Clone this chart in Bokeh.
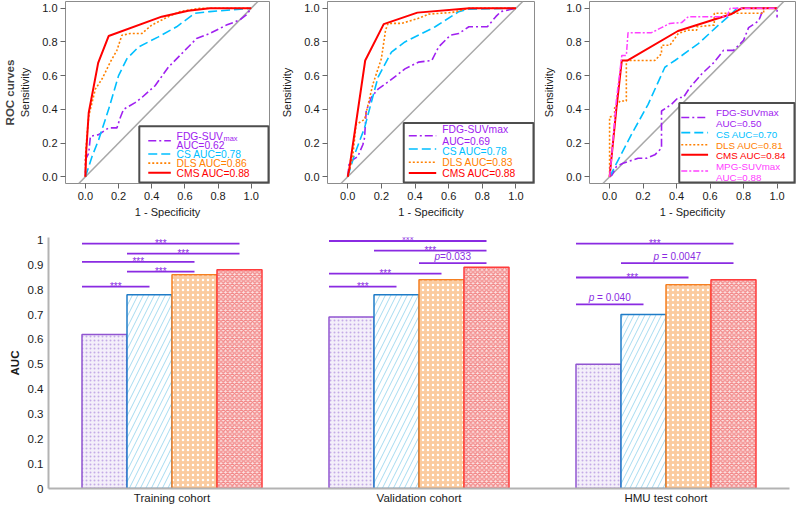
from bokeh.plotting import figure
from bokeh.models import Range1d, FixedTicker, PrintfTickFormatter, Title, Slope
from bokeh.layouts import row, column
from bokeh.embed import file_html
from bokeh.resources import INLINE
from bokeh.core.properties import value

# ---------------- data ----------------
roc_ticks = [0.0, 0.2, 0.4, 0.6, 0.8, 1.0]

# Training cohort ROC curves (1 - specificity, sensitivity)
train_fdg_fpr = [0, 0.0, 0.02, 0.03, 0.08, 0.14, 0.19, 0.21, 0.23, 0.30, 0.34, 0.42, 0.50, 0.58, 0.62, 0.67, 0.75, 0.85, 0.93, 0.97, 1.0]
train_fdg_tpr = [0, 0.10, 0.14, 0.24, 0.25, 0.29, 0.29, 0.35, 0.40, 0.44, 0.47, 0.54, 0.65, 0.73, 0.77, 0.82, 0.85, 0.90, 0.93, 0.96, 1.0]
train_cs_fpr = [0, 0.04, 0.08, 0.14, 0.20, 0.25, 0.32, 0.44, 0.55, 0.66, 0.75, 1.0]
train_cs_tpr = [0, 0.12, 0.22, 0.40, 0.60, 0.70, 0.77, 0.83, 0.89, 0.97, 0.98, 1.0]
train_dls_fpr = [0, 0.0, 0.01, 0.02, 0.04, 0.06, 0.08, 0.10, 0.12, 0.15, 0.19, 0.22, 0.27, 0.34, 0.40, 0.50, 0.57, 0.69, 1.0]
train_dls_tpr = [0, 0.12, 0.25, 0.36, 0.44, 0.52, 0.55, 0.58, 0.62, 0.68, 0.75, 0.84, 0.85, 0.85, 0.90, 0.95, 0.98, 1.0, 1.0]
train_cms_fpr = [0, 0.005, 0.02, 0.077, 0.14, 0.46, 0.62, 0.75, 1.0]
train_cms_tpr = [0, 0.15, 0.38, 0.676, 0.835, 0.95, 0.985, 1.0, 1.0]

# Validation cohort ROC curves
valid_fdg_fpr = [0, 0.01, 0.03, 0.06, 0.09, 0.10, 0.11, 0.14, 0.18, 0.25, 0.34, 0.42, 0.50, 0.54, 0.61, 0.66, 0.72, 0.83, 0.88, 0.91, 1.0]
valid_fdg_tpr = [0, 0.09, 0.10, 0.12, 0.19, 0.23, 0.39, 0.47, 0.52, 0.57, 0.64, 0.68, 0.69, 0.77, 0.84, 0.85, 0.89, 0.89, 0.95, 0.98, 1.0]
valid_cs_fpr = [0, 0.04, 0.10, 0.18, 0.26, 0.34, 0.52, 0.66, 0.72, 1.0]
valid_cs_tpr = [0, 0.13, 0.29, 0.59, 0.74, 0.80, 0.89, 0.98, 0.995, 1.0]
valid_dls_fpr = [0, 0.01, 0.03, 0.05, 0.10, 0.15, 0.20, 0.225, 0.24, 0.32, 0.42, 0.48, 0.62, 0.72, 1.0]
valid_dls_tpr = [0, 0.04, 0.12, 0.31, 0.34, 0.55, 0.70, 0.87, 0.91, 0.91, 0.94, 0.965, 0.975, 1.0, 1.0]
valid_cms_fpr = [0, 0.01, 0.104, 0.214, 0.414, 0.724, 1.0]
valid_cms_tpr = [0, 0.05, 0.69, 0.906, 0.974, 1.0, 1.0]

# HMU test cohort ROC curves
hmu_fdg_fpr = [0, 0.014, 0.04, 0.08, 0.17, 0.22, 0.27, 0.31, 0.31, 0.37, 0.41, 0.44, 0.48, 0.55, 0.625, 0.68, 0.74, 0.80, 0.83, 0.89, 0.92, 1.0, 1.0]
hmu_fdg_tpr = [0, 0.01, 0.06, 0.08, 0.11, 0.11, 0.13, 0.17, 0.39, 0.43, 0.47, 0.47, 0.53, 0.61, 0.68, 0.75, 0.75, 0.81, 0.885, 0.925, 1.0, 1.0, 0.945]
hmu_cs_fpr = [0, 0.13, 0.23, 0.33, 0.39, 0.53, 0.645, 0.724, 0.76, 1.0]
hmu_cs_tpr = [0, 0.25, 0.43, 0.65, 0.69, 0.79, 0.895, 0.964, 1.0, 1.0]
hmu_dls_fpr = [0, 0.0, 0.03, 0.03, 0.063, 0.10, 0.10, 0.27, 0.31, 0.31, 0.36, 0.41, 0.47, 0.52, 0.52, 0.625, 0.625, 0.92, 0.92, 1.0]
hmu_dls_tpr = [0, 0.355, 0.36, 0.41, 0.45, 0.45, 0.69, 0.69, 0.73, 0.78, 0.78, 0.85, 0.87, 0.87, 0.89, 0.90, 0.97, 0.97, 1.0, 1.0]
hmu_cms_fpr = [0, 0.01, 0.04, 0.073, 0.108, 0.408, 0.724, 0.79, 1.0]
hmu_cms_tpr = [0, 0.10, 0.40, 0.69, 0.69, 0.865, 0.964, 1.0, 1.0]
hmu_mpg_fpr = [0, 0.01, 0.04, 0.073, 0.10, 0.11, 0.25, 0.31, 0.36, 0.43, 0.47, 0.70, 0.72, 1.0]
hmu_mpg_tpr = [0, 0.10, 0.45, 0.72, 0.72, 0.855, 0.855, 0.885, 0.91, 0.915, 0.95, 0.95, 1.0, 1.0]

roc_auc_train = [0.62, 0.78, 0.86, 0.88]
roc_auc_valid = [0.69, 0.78, 0.83, 0.88]
roc_auc_hmu = [0.50, 0.70, 0.81, 0.84, 0.88]

# Bar chart
cohorts = ["Training cohort", "Validation cohort", "HMU test cohort"]
methods = ["FDG-SUVmax", "CS", "DLS", "CMS"]
auc_fdg = [0.62, 0.69, 0.50]
auc_cs = [0.78, 0.78, 0.70]
auc_dls = [0.86, 0.84, 0.82]
auc_cms = [0.88, 0.89, 0.84]
auc_ticks = [0, 0.1, 0.2, 0.3, 0.4, 0.5, 0.6, 0.7, 0.8, 0.9, 1]
auc_tick_labels = ["0", "0.1", "0.2", "0.3", "0.4", "0.5", "0.6", "0.7", "0.8", "0.9", "1"]

# pairwise comparisons: cohort index, bar a, bar b, bracket level, label
sig_cohort = [0, 0, 0, 0, 0, 1, 1, 1, 1, 1, 2, 2, 2, 2]
sig_bar_a = [0, 1, 0, 1, 0, 0, 1, 2, 0, 0, 0, 1, 0, 0]
sig_bar_b = [3, 3, 2, 2, 1, 3, 3, 3, 2, 1, 3, 3, 2, 1]
sig_level = [0.985, 0.945, 0.912, 0.873, 0.812, 0.996, 0.957, 0.907, 0.865, 0.812, 0.985, 0.907, 0.849, 0.741]
sig_label = ["***", "***", "***", "***", "***", "***", "***", "p=0.033", "***", "***",
             "***", "p = 0.0047", "***", "p = 0.040"]

# ---------------- style ----------------
FONT = "Liberation Sans"

C_FDG, C_CS, C_DLS, C_CMS, C_MPG = "#A020F0", "#00BFFF", "#FF8000", "#FF0000", "#FF40FF"
STY = {
    "fdg": dict(line_color=C_FDG, line_dash="8 3 2 3", line_width=1.6),
    "cs": dict(line_color=C_CS, line_dash="9 4", line_width=1.6),
    "dls": dict(line_color=C_DLS, line_dash="2 2", line_width=1.6),
    "cms": dict(line_color=C_CMS, line_dash="solid", line_width=2.0),
    "mpg": dict(line_color=C_MPG, line_dash="6 2 2 2", line_width=1.5),
}
TEXT_C = {"fdg": C_FDG, "cs": C_CS, "dls": C_DLS, "cms": C_CMS, "mpg": C_MPG}

CHAR_W = {'0': .556, '1': .556, '2': .556, '3': .556, '4': .556, '5': .556, '6': .556, '7': .556,
          '8': .556, '9': .556, '.': .278, ' ': .278, '=': .584, 'p': .556, '*': .389,
          'F': .611, 'D': .722, 'G': .778, '-': .333, 'S': .667, 'U': .722, 'V': .667}


def text_w(s, size):
    return sum(CHAR_W.get(c, .556) for c in s) * size


TOP_H = 222
FRAME_H = 182
XR = (-0.12, 1.11)
YR = (-0.04, 1.04)


def make_roc(width, bl, br):
    p = figure(width=width, height=TOP_H, output_backend="svg", toolbar_location=None,
               x_range=Range1d(*XR), y_range=Range1d(*YR),
               min_border_left=bl, min_border_right=br,
               min_border_top=1, min_border_bottom=TOP_H - 1 - FRAME_H)
    p.grid.visible = False
    p.outline_line_color = "#8C8C8C"
    p.outline_line_width = 1
    p.background_fill_color = "white"
    p.border_fill_color = "white"
    for ax in (p.xaxis[0], p.yaxis[0]):
        ax.ticker = FixedTicker(ticks=roc_ticks)
        ax.formatter = PrintfTickFormatter(format="%.1f")
        ax.axis_line_color = None
        ax.major_tick_line_color = "#666666"
        ax.major_tick_in = 0
        ax.major_tick_out = 5
        ax.minor_tick_line_color = None
        ax.major_label_text_font = FONT
        ax.major_label_text_font_size = "11px"
        ax.major_label_text_color = "#1A1A1A"
        ax.axis_label_text_font = FONT
        ax.axis_label_text_font_size = "11px"
        ax.axis_label_text_font_style = "normal"
        ax.axis_label_text_color = "#1A1A1A"
    p.xaxis.axis_label = "1 - Specificity"
    p.yaxis.axis_label = "Sensitivity"
    p.xaxis.major_label_standoff = 3
    p.xaxis.axis_label_standoff = 3
    p.yaxis.major_label_standoff = 3
    p.yaxis.axis_label_standoff = 8
    p.add_layout(Slope(gradient=1, y_intercept=0, line_color="#A8A8A8", line_width=1.5, level="underlay"))
    return p


def draw_curves(p, curves):
    for key, xs, ys in curves:
        p.line(x=xs, y=ys, **STY[key])


def draw_legend(p, box_left, box_top, sx0, sx1, tx, entries, size):
    p.quad(left=[box_left], right=[XR[1] - 0.006], top=[box_top], bottom=[YR[0] + 0.006],
           fill_color="white", line_color="#4D4D4D", line_width=2)
    for key, sy, texts in entries:
        p.line(x=[sx0, sx1], y=[sy, sy], **STY[key])
        for t in texts:
            txt, ty = t[0], t[1]
            p.text(x=[tx], y=[ty], text=[txt], text_color=TEXT_C[key], text_font=value(FONT),
                   text_font_size=f"{size}px", text_baseline="middle", text_align="left")
            if len(t) > 2:
                p.text(x=[tx], y=[ty], text=[t[2]], text_color=TEXT_C[key], text_font=value(FONT),
                       text_font_size=f"{size * 0.72:.1f}px", text_baseline="middle", text_align="left",
                       x_offset=text_w(txt, size) + 0.5, y_offset=2.5)


# Panel 1 - training
p1 = make_roc(272, 62, 3)
p1.add_layout(Title(text="ROC curves", text_font=FONT, text_font_size="11.5px", text_font_style="bold",
                    align="center", offset=10, standoff=2), "left")
draw_curves(p1, [("fdg", train_fdg_fpr, train_fdg_tpr), ("cs", train_cs_fpr, train_cs_tpr),
                 ("dls", train_dls_fpr, train_dls_tpr), ("cms", train_cms_fpr, train_cms_tpr)])
draw_legend(p1, 0.325, 0.30, 0.379, 0.515, 0.55, [
    ("fdg", 0.214, [("FDG-SUV", 0.241, "max"), (f"AUC={roc_auc_train[0]:.2f}", 0.188)]),
    ("cs", 0.135, [(f"CS AUC={roc_auc_train[1]:.2f}", 0.135)]),
    ("dls", 0.081, [(f"DLS AUC={roc_auc_train[2]:.2f}", 0.081)]),
    ("cms", 0.024, [(f"CMS AUC={roc_auc_train[3]:.2f}", 0.018)]),
], 10.3)

# Panel 2 - validation
p2 = make_roc(265, 55, 3)
draw_curves(p2, [("fdg", valid_fdg_fpr, valid_fdg_tpr), ("cs", valid_cs_fpr, valid_cs_tpr),
                 ("dls", valid_dls_fpr, valid_dls_tpr), ("cms", valid_cms_fpr, valid_cms_tpr)])
draw_legend(p2, 0.333, 0.319, 0.363, 0.526, 0.562, [
    ("fdg", 0.243, [("FDG-SUVmax", 0.283), (f"AUC={roc_auc_valid[0]:.2f}", 0.211)]),
    ("cs", 0.165, [(f"CS AUC={roc_auc_valid[1]:.2f}", 0.149)]),
    ("dls", 0.086, [(f"DLS AUC={roc_auc_valid[2]:.2f}", 0.086)]),
    ("cms", 0.022, [(f"CMS AUC={roc_auc_valid[3]:.2f}", 0.020)]),
], 10.3)

# Panel 3 - HMU test
p3 = make_roc(260, 52, 2)
draw_curves(p3, [("fdg", hmu_fdg_fpr, hmu_fdg_tpr), ("cs", hmu_cs_fpr, hmu_cs_tpr),
                 ("dls", hmu_dls_fpr, hmu_dls_tpr), ("cms", hmu_cms_fpr, hmu_cms_tpr),
                 ("mpg", hmu_mpg_fpr, hmu_mpg_tpr)])
draw_legend(p3, 0.416, 0.438, 0.428, 0.588, 0.635, [
    ("fdg", 0.352, [("FDG-SUVmax", 0.382), (f"AUC={roc_auc_hmu[0]:.2f}", 0.316)]),
    ("cs", 0.262, [(f"CS AUC={roc_auc_hmu[1]:.2f}", 0.252)]),
    ("dls", 0.190, [(f"DLS AUC={roc_auc_hmu[2]:.2f}", 0.188)]),
    ("cms", 0.130, [(f"CMS AUC={roc_auc_hmu[3]:.2f}", 0.125)]),
    ("mpg", 0.034, [("MPG-SUVmax", 0.062), (f"AUC={roc_auc_hmu[4]:.2f}", -0.002)]),
], 9.8)

# ---------------- bar chart ----------------
BOT_H = 506 - TOP_H
BW = 45 / 247
group_x = [1, 2, 3]
pb = figure(width=797, height=BOT_H, output_backend="svg", toolbar_location=None,
            x_range=Range1d(0.5, 3.5), y_range=Range1d(0, 1.01),
            min_border_left=48, min_border_right=8,
            min_border_top=15, min_border_bottom=17)
pb.grid.visible = False
pb.outline_line_color = None
pb.background_fill_color = "white"

bar_styles = [
    dict(fill_color="#F4EFFA", hatch_pattern="dot", hatch_color="#C4ABE6", hatch_scale=4, hatch_weight=1.2,
         line_color="#9155D1", line_width=1.5),
    dict(fill_color="white", hatch_pattern="right_diagonal_line", hatch_color="#A6DBF0", hatch_scale=11,
         hatch_weight=1, line_color="#1F7CC8", line_width=1.5),
    dict(fill_color="#FBCB9F", hatch_pattern="dot", hatch_color="white", hatch_scale=5, hatch_weight=1.5,
         line_color="#F57F20", line_width=1.5),
    dict(fill_color="#FBE3E3", hatch_pattern="diagonal_cross", hatch_color="#F28585", hatch_scale=4.5,
         hatch_weight=1.3, line_color="#FF3B3B", line_width=1.5),
]
for k, (vals, st) in enumerate(zip([auc_fdg, auc_cs, auc_dls, auc_cms], bar_styles)):
    xs = [g + (k - 1.5) * BW for g in group_x]
    pb.vbar(x=xs, top=vals, bottom=0, width=BW, **st)

SIG_C = "#8A2BE2"
x0s, x1s = [], []
for c, a, b in zip(sig_cohort, sig_bar_a, sig_bar_b):
    g = group_x[c]
    x0s.append(g + (a - 2) * BW)
    x1s.append(g + (b - 1.5) * BW)
pb.segment(x0=x0s, x1=x1s, y0=sig_level, y1=sig_level, line_color=SIG_C, line_width=1.8)

ast_x, ast_y = [], []
for x0, x1, lv, lab in zip(x0s, x1s, sig_level, sig_label):
    xc = (x0 + x1) / 2
    if lab.startswith("p"):
        size = 10
        total = text_w(lab, size)
        rest = lab[1:]
        lead = len(rest) - len(rest.lstrip())
        off = -total / 2 + text_w("p" + " " * lead, size)
        pb.text(x=[xc], y=[lv], text=["p"], text_color=SIG_C, text_font=value(FONT),
                text_font_style="italic", text_font_size=f"{size}px", text_baseline="bottom",
                text_align="left", x_offset=-total / 2, y_offset=-1)
        pb.text(x=[xc], y=[lv], text=[rest.lstrip()], text_color=SIG_C, text_font=value(FONT),
                text_font_size=f"{size}px", text_baseline="bottom",
                text_align="left", x_offset=off, y_offset=-1)
    else:
        ast_x.append(xc)
        ast_y.append(lv)
pb.text(x=ast_x, y=ast_y, text=["***"] * len(ast_x), text_color=SIG_C, text_font=value(FONT),
        text_font_size="10px", text_baseline="alphabetic", text_align="center", y_offset=-0.5)

pb.xaxis.ticker = FixedTicker(ticks=group_x)
pb.xaxis.major_label_overrides = {g: c for g, c in zip(group_x, cohorts)}
pb.yaxis.ticker = FixedTicker(ticks=auc_ticks)
pb.yaxis.major_label_overrides = {t: l for t, l in zip(auc_ticks, auc_tick_labels)}
for ax in (pb.xaxis[0], pb.yaxis[0]):
    ax.axis_line_color = "#B3B3B3"
    ax.axis_line_width = 2
    ax.major_tick_line_color = None
    ax.minor_tick_line_color = None
    ax.major_tick_out = 0
    ax.major_tick_in = 0
    ax.major_label_text_font = FONT
    ax.major_label_text_font_size = "11.5px"
    ax.major_label_text_color = "#1A1A1A"
pb.xaxis.major_label_standoff = 3
pb.yaxis.major_label_standoff = 5
pb.yaxis.axis_label = "AUC"
pb.yaxis.axis_label_text_font = FONT
pb.yaxis.axis_label_text_font_size = "11.5px"
pb.yaxis.axis_label_text_font_style = "bold"
pb.yaxis.axis_label_text_color = "#1A1A1A"
pb.yaxis.axis_label_standoff = 4

layout = column(row(p1, p2, p3), pb)
open("out.html", "w").write(file_html(layout, INLINE))
